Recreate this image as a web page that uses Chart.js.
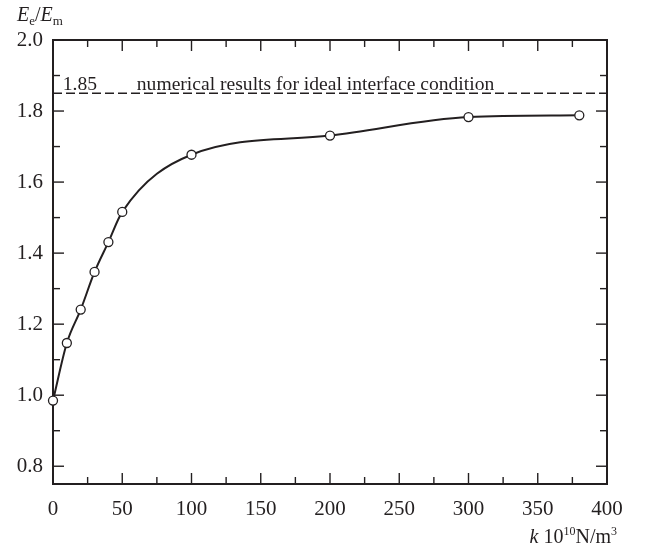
<!DOCTYPE html>
<html>
<head>
<meta charset="utf-8">
<script src="https://cdn.jsdelivr.net/npm/chart.js@4.4.0/dist/chart.umd.min.js"></script>
<style>
html, body { margin: 0; padding: 0; background: #fff; }
#wrap { width: 647px; height: 554px; }
</style>
</head>
<body>
<div id="wrap"><canvas id="modulus-chart" width="647" height="554"></canvas></div>
<script>
// data
var stiffness = [0, 10, 20, 30, 40, 50, 100, 200, 300, 380];
var modulusRatio = [0.985, 1.147, 1.241, 1.347, 1.431, 1.516, 1.677, 1.731, 1.783, 1.788];
var idealValue = 1.85;
var idealRange = [0, 400];
var idealLabel = 'numerical results for ideal interface condition';
var xTickLabels = [0, 50, 100, 150, 200, 250, 300, 350, 400];
var xMinorTicks = [25, 75, 125, 175, 225, 275, 325, 375];
var yTickLabels = [0.8, 1.0, 1.2, 1.4, 1.6, 1.8, 2.0];
var yMinorTicks = [0.9, 1.1, 1.3, 1.5, 1.7, 1.9];

var INK = '#231f20';
var SERIF = '"Liberation Serif", "Times New Roman", serif';

function setFont(ctx, size, italic) {
    ctx.font = (italic ? 'italic ' : '') + size + 'px ' + SERIF;
}

// draws a run of text pieces (for sub/superscripts), returns end x
function drawRich(ctx, x, y, parts) {
    parts.forEach(function(p) {
        setFont(ctx, p.size, p.italic);
        ctx.fillText(p.text, x, y + (p.dy || 0));
        x += ctx.measureText(p.text).width;
    });
    return x;
}

function richWidth(ctx, parts) {
    var w = 0;
    parts.forEach(function(p) {
        setFont(ctx, p.size, p.italic);
        w += ctx.measureText(p.text).width;
    });
    return w;
}

function line(ctx, x1, y1, x2, y2) {
    ctx.beginPath();
    ctx.moveTo(x1, y1);
    ctx.lineTo(x2, y2);
    ctx.stroke();
}

var framePlugin = {
    id: 'frame',
    beforeDatasetsDraw: function(chart) {
        var ctx = chart.ctx;
        var a = chart.chartArea;
        var xs = chart.scales.x;
        var ys = chart.scales.y;
        ctx.save();
        ctx.strokeStyle = INK;
        ctx.lineWidth = 2;
        ctx.strokeRect(a.left, a.top, a.right - a.left, a.bottom - a.top);
        ctx.lineWidth = 1.4;
        xTickLabels.forEach(function(v) {
            var px = xs.getPixelForValue(v);
            line(ctx, px, a.bottom, px, a.bottom - 11);
            line(ctx, px, a.top, px, a.top + 11);
        });
        xMinorTicks.forEach(function(v) {
            var px = xs.getPixelForValue(v);
            line(ctx, px, a.bottom, px, a.bottom - 7);
            line(ctx, px, a.top, px, a.top + 7);
        });
        yTickLabels.forEach(function(v) {
            var py = ys.getPixelForValue(v);
            line(ctx, a.left, py, a.left + 11, py);
            line(ctx, a.right, py, a.right - 11, py);
        });
        yMinorTicks.forEach(function(v) {
            var py = ys.getPixelForValue(v);
            line(ctx, a.left, py, a.left + 7, py);
            line(ctx, a.right, py, a.right - 7, py);
        });
        ctx.restore();
    },
    afterDraw: function(chart) {
        var ctx = chart.ctx;
        var xs = chart.scales.x;
        var ys = chart.scales.y;
        ctx.save();
        ctx.fillStyle = INK;
        ctx.textBaseline = 'alphabetic';
        ctx.textAlign = 'left';

        // labels over the dashed reference line
        var baseY = ys.getPixelForValue(idealValue) - 3.5;
        setFont(ctx, 19.6, false);
        ctx.fillText(String(idealValue), xs.getPixelForValue(7), baseY);
        ctx.fillText(idealLabel, xs.getPixelForValue(60.5), baseY);

        // y title  Ee/Em
        drawRich(ctx, 17, 21, [
            { text: 'E', size: 20, italic: true },
            { text: 'e', size: 13, dy: 4 },
            { text: '/', size: 20 },
            { text: 'E', size: 20, italic: true },
            { text: 'm', size: 13, dy: 4 }
        ]);

        // x title  k 10^10 N/m^3
        var xParts = [
            { text: 'k', size: 20, italic: true },
            { text: ' 10', size: 20 },
            { text: '10', size: 12, dy: -8 },
            { text: 'N/m', size: 20 },
            { text: '3', size: 12, dy: -8 }
        ];
        drawRich(ctx, 617 - richWidth(ctx, xParts), 543, xParts);
        ctx.restore();
    }
};

var curvePoints = stiffness.map(function(k, i) {
    return { x: k, y: modulusRatio[i] };
});

var idealPoints = idealRange.map(function(k) {
    return { x: k, y: idealValue };
});

var tickFont = { family: SERIF, size: 21 };

new Chart(document.getElementById('modulus-chart'), {
    type: 'scatter',
    data: {
        datasets: [
            {
                label: 'ideal',
                data: idealPoints,
                showLine: true,
                borderColor: INK,
                borderWidth: 1.5,
                borderDash: [9, 4],
                pointRadius: 0
            },
            {
                label: 'Ee/Em',
                data: curvePoints,
                showLine: true,
                cubicInterpolationMode: 'monotone',
                borderColor: INK,
                borderWidth: 2,
                pointRadius: 4.5,
                pointBorderWidth: 1.3,
                pointBackgroundColor: '#ffffff',
                pointBorderColor: INK,
                clip: false
            }
        ]
    },
    options: {
        responsive: false,
        animation: false,
        layout: { padding: { top: 40, right: 40, left: 0, bottom: 0 } },
        plugins: {
            legend: { display: false },
            tooltip: { enabled: false }
        },
        scales: {
            x: {
                type: 'linear',
                min: 0,
                max: 400,
                grid: { display: false, drawTicks: false },
                border: { display: false },
                afterFit: function(s) { s.height = 70; },
                afterBuildTicks: function(s) {
                    s.ticks = xTickLabels.map(function(v) { return { value: v }; });
                },
                ticks: {
                    color: INK,
                    font: tickFont,
                    padding: 13,
                    maxRotation: 0,
                    callback: function(v) { return String(v); }
                }
            },
            y: {
                type: 'linear',
                min: 0.75,
                max: 2.0,
                grid: { display: false, drawTicks: false },
                border: { display: false },
                afterFit: function(s) { s.width = 53; },
                afterBuildTicks: function(s) {
                    s.ticks = yTickLabels.map(function(v) { return { value: v }; });
                },
                ticks: {
                    color: INK,
                    font: tickFont,
                    padding: 10,
                    callback: function(v) { return v.toFixed(1); }
                }
            }
        }
    },
    plugins: [framePlugin]
});
</script>
</body>
</html>
